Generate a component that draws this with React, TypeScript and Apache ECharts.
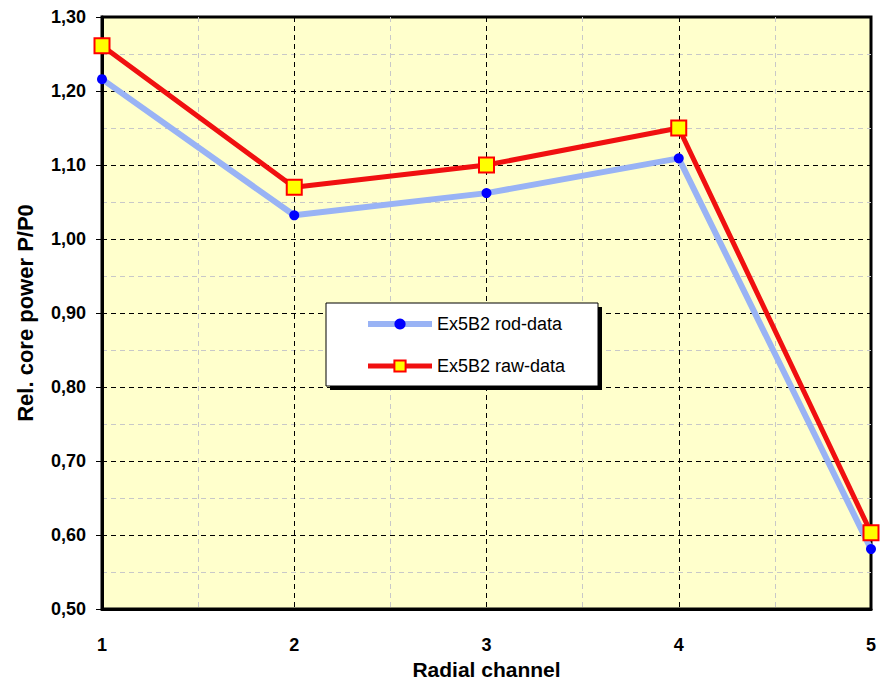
import React, { useEffect, useRef } from "react";
import * as echarts from "echarts";

const channels = [1, 2, 3, 4, 5];
const rodData = [1.216, 1.032, 1.062, 1.109, 0.581];
const rawData = [1.261, 1.07, 1.1, 1.15, 0.603];
const seriesNames = ["Ex5B2 rod-data", "Ex5B2 raw-data"];
const xTitle = "Radial channel";
const yTitle = "Rel. core power P/P0";

const FONT = 'Arial, "Liberation Sans", sans-serif';

export default function App() {
  const ref = useRef<HTMLDivElement>(null);
  useEffect(() => {
    if (!ref.current) return;
    const chart = echarts.init(ref.current, undefined, { renderer: "svg" });
    const major = { show: true, lineStyle: { color: "#000", width: 1, type: [5, 4] as any } };
    const minor = { show: true, lineStyle: { color: "#C8C8C8", width: 1, type: [5, 4] as any } };
    chart.setOption({
      animation: false,
      backgroundColor: "#fff",
      textStyle: { fontFamily: FONT },
      grid: {
        left: 102,
        right: 10,
        top: 17,
        bottom: 71,
        outerBoundsMode: "none",
        containLabel: false,
        show: true,
        backgroundColor: "#FFFFCC",
        borderColor: "#000",
        borderWidth: 3,
        z: 0,
      },
      xAxis: {
        type: "value",
        min: 1,
        max: 5,
        interval: 1,
        name: xTitle,
        nameLocation: "middle",
        nameGap: 43,
        nameTextStyle: { fontFamily: FONT, fontSize: 21, lineHeight: 22, fontWeight: "bold", color: "#000" },
        axisLine: { show: true, lineStyle: { color: "#000", width: 3 } },
        axisTick: { show: false },
        axisLabel: { fontFamily: FONT, fontSize: 18, fontWeight: "bold", color: "#000", margin: 27 },
        splitLine: major,
        minorTick: { show: false, splitNumber: 2 },
        minorSplitLine: minor,
      },
      yAxis: {
        type: "value",
        min: 0.5,
        max: 1.3,
        interval: 0.1,
        name: yTitle,
        nameLocation: "middle",
        nameGap: 66,
        nameTextStyle: { fontFamily: FONT, fontSize: 22, fontWeight: "bold", color: "#000" },
        axisLine: { show: true, lineStyle: { color: "#000", width: 3 } },
        axisTick: { show: true, length: 6, lineStyle: { color: "#000", width: 1 } },
        axisLabel: {
          fontFamily: FONT,
          fontSize: 18,
          fontWeight: "bold",
          color: "#000",
          margin: 16,
          formatter: (v: number) => v.toFixed(2).replace(".", ","),
        },
        splitLine: major,
        minorTick: { show: false, splitNumber: 2 },
        minorSplitLine: minor,
      },
      graphic: [
        { type: "rect", z: 50, shape: { x: 330, y: 307, width: 272, height: 83 }, style: { fill: "#000" } },
        {
          type: "rect",
          z: 51,
          shape: { x: 326, y: 303, width: 272, height: 83 },
          style: { fill: "#fff", stroke: "#000", lineWidth: 1 },
        },
      ],
      legend: {
        z: 60,
        orient: "vertical",
        left: 365,
        top: 315,
        itemWidth: 64,
        itemHeight: 14,
        itemGap: 24,
        padding: 0,
        textStyle: { fontFamily: FONT, fontSize: 18, color: "#000" },
        data: [
          { name: seriesNames[0], lineStyle: { width: 6, color: "#99B3F5" } },
          { name: seriesNames[1], lineStyle: { width: 5, color: "#F01010" } },
        ],
      },
      series: [
        {
          name: seriesNames[0],
          type: "line",
          data: channels.map((c, i) => [c, rodData[i]]),
          clip: false,
          z: 3,
          symbol: "circle",
          symbolSize: 10,
          itemStyle: { color: "#0000FF", borderWidth: 0 },
          lineStyle: { color: "#99B3F5", width: 6 },
        },
        {
          name: seriesNames[1],
          type: "line",
          data: channels.map((c, i) => [c, rawData[i]]),
          clip: false,
          z: 4,
          symbol: "rect",
          symbolSize: 15,
          itemStyle: { color: "#FFFF00", borderColor: "#FF0000", borderWidth: 2 },
          lineStyle: { color: "#F01010", width: 5 },
        },
      ],
    });
    return () => chart.dispose();
  }, []);
  return <div ref={ref} style={{ position: "fixed", left: 0, top: 0, width: 881, height: 680 }} />;
}
